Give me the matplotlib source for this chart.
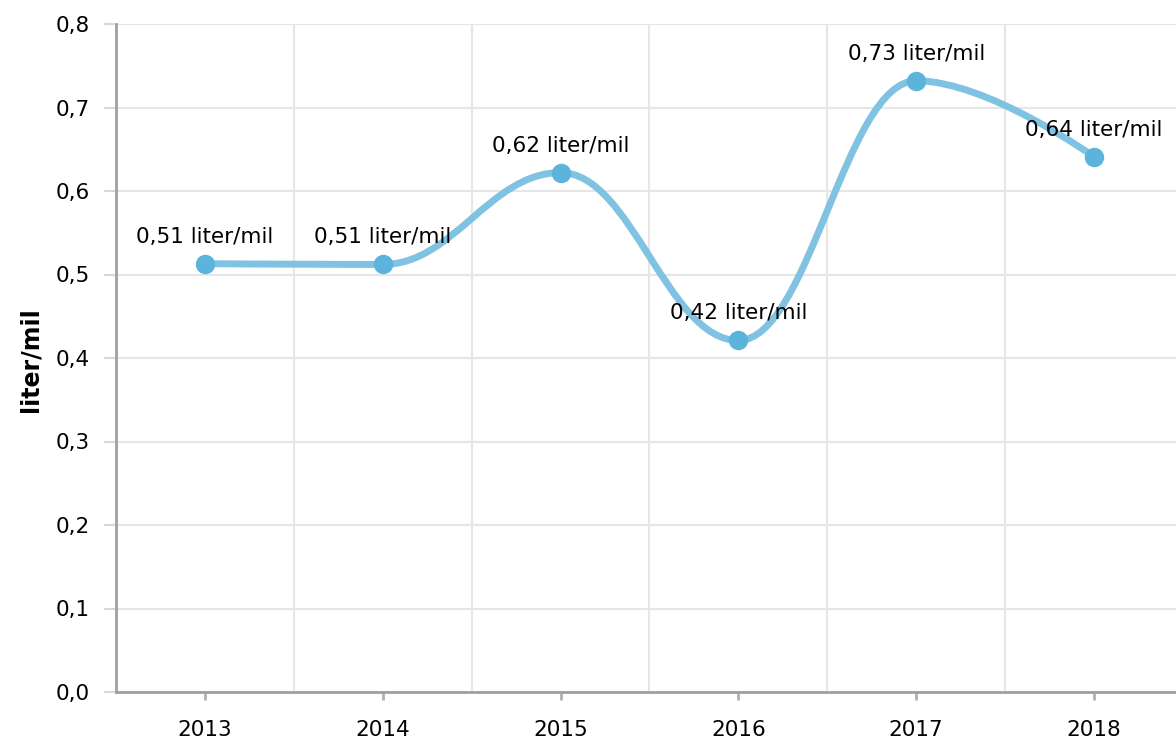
import numpy as np
import matplotlib
matplotlib.use("Agg")
import matplotlib.pyplot as plt
from matplotlib.path import Path
from matplotlib.patches import PathPatch

years = ["2013", "2014", "2015", "2016", "2017", "2018"]
values = [0.513, 0.512, 0.622, 0.421, 0.732, 0.641]
y_ticks = [0.0, 0.1, 0.2, 0.3, 0.4, 0.5, 0.6, 0.7, 0.8]
unit = "liter/mil"

LINE_C = "#80c2e2"
MARK_C = "#5cb3dc"
GRID_C = "#e6e6e6"
AXIS_C = "#a0a0a0"
FS = 15.5

plt.rcParams['font.family'] = ['DejaVu Sans']

fig = plt.figure(figsize=(11.76, 7.45), dpi=100)
ax = fig.add_axes([116/1176, 1-692/745, 1067/1176, 668/745])

x = np.arange(len(years), dtype=float)
y = np.array(values, dtype=float)

# Highcharts-style spline control points
def spline_path(xs, ys, smoothing=1.5):
    denom = smoothing + 1
    n = len(xs)
    rc = [None] * n
    lc = [None] * n
    for i in range(n):
        if 0 < i < n - 1:
            px, py = xs[i], ys[i]
            lx, ly = xs[i-1], ys[i-1]
            nx, ny = xs[i+1], ys[i+1]
            lcx = (smoothing*px + lx)/denom
            lcy = (smoothing*py + ly)/denom
            rcx = (smoothing*px + nx)/denom
            rcy = (smoothing*py + ny)/denom
            corr = 0.0
            if rcx != lcx:
                corr = ((rcy - lcy)*(rcx - px))/(rcx - lcx) + py - rcy
            lcy += corr
            rcy += corr
            if lcy > ly and lcy > py:
                lcy = max(ly, py); rcy = 2*py - lcy
            elif lcy < ly and lcy < py:
                lcy = min(ly, py); rcy = 2*py - lcy
            if rcy > ny and rcy > py:
                rcy = max(ny, py); lcy = 2*py - rcy
            elif rcy < ny and rcy < py:
                rcy = min(ny, py); lcy = 2*py - rcy
            lc[i] = (lcx, lcy)
            rc[i] = (rcx, rcy)
    verts = [(xs[0], ys[0])]
    codes = [Path.MOVETO]
    for i in range(1, n):
        c1 = rc[i-1] if rc[i-1] is not None else (xs[i-1], ys[i-1])
        c2 = lc[i] if lc[i] is not None else (xs[i], ys[i])
        verts += [c1, c2, (xs[i], ys[i])]
        codes += [Path.CURVE4] * 3
    return Path(verts, codes)

path = spline_path(x, y)
ax.add_patch(PathPatch(path, facecolor='none', edgecolor=LINE_C, lw=5,
                       capstyle='round', joinstyle='round', zorder=3))
ax.plot(x, y, 'o', color=MARK_C, markersize=14, markeredgewidth=0, zorder=4)

for xi, yi in zip(x, y):
    ax.annotate(f"{yi:.2f}".replace('.', ',') + " " + unit, (xi, yi),
                xytext=(0, 19.5), textcoords='offset points',
                ha='center', va='center', fontsize=FS, color='black', zorder=5)

ax.set_xlim(-0.5, len(years) - 0.5)
ax.set_ylim(0, 0.8)
ax.set_yticks(y_ticks)
ax.set_yticklabels([f"{t:.1f}".replace('.', ',') for t in y_ticks], fontsize=FS)
ax.set_xticks(x)
ax.set_xticklabels(years, fontsize=FS)
ax.set_xticks(np.arange(len(years) + 1) - 0.5, minor=True)

ax.grid(True, axis='y', which='major', color=GRID_C, lw=1.5)
ax.grid(True, axis='x', which='minor', color=GRID_C, lw=1.5)
ax.set_axisbelow(True)

ax.tick_params(axis='y', length=9, width=1.5, color='#d8d8d8', pad=10)
ax.tick_params(axis='x', which='major', length=6, width=2, color='#b0b0b0', pad=14)
ax.tick_params(axis='x', which='minor', length=0)

for s in ['top', 'right']:
    ax.spines[s].set_visible(False)
for s in ['left', 'bottom']:
    ax.spines[s].set_color(AXIS_C)
    ax.spines[s].set_linewidth(2)

fig.text(30/1176, 1-360/745, unit, rotation=90, ha='center', va='center',
         fontsize=17, fontweight='bold')

fig.savefig("out.png", dpi=100)
